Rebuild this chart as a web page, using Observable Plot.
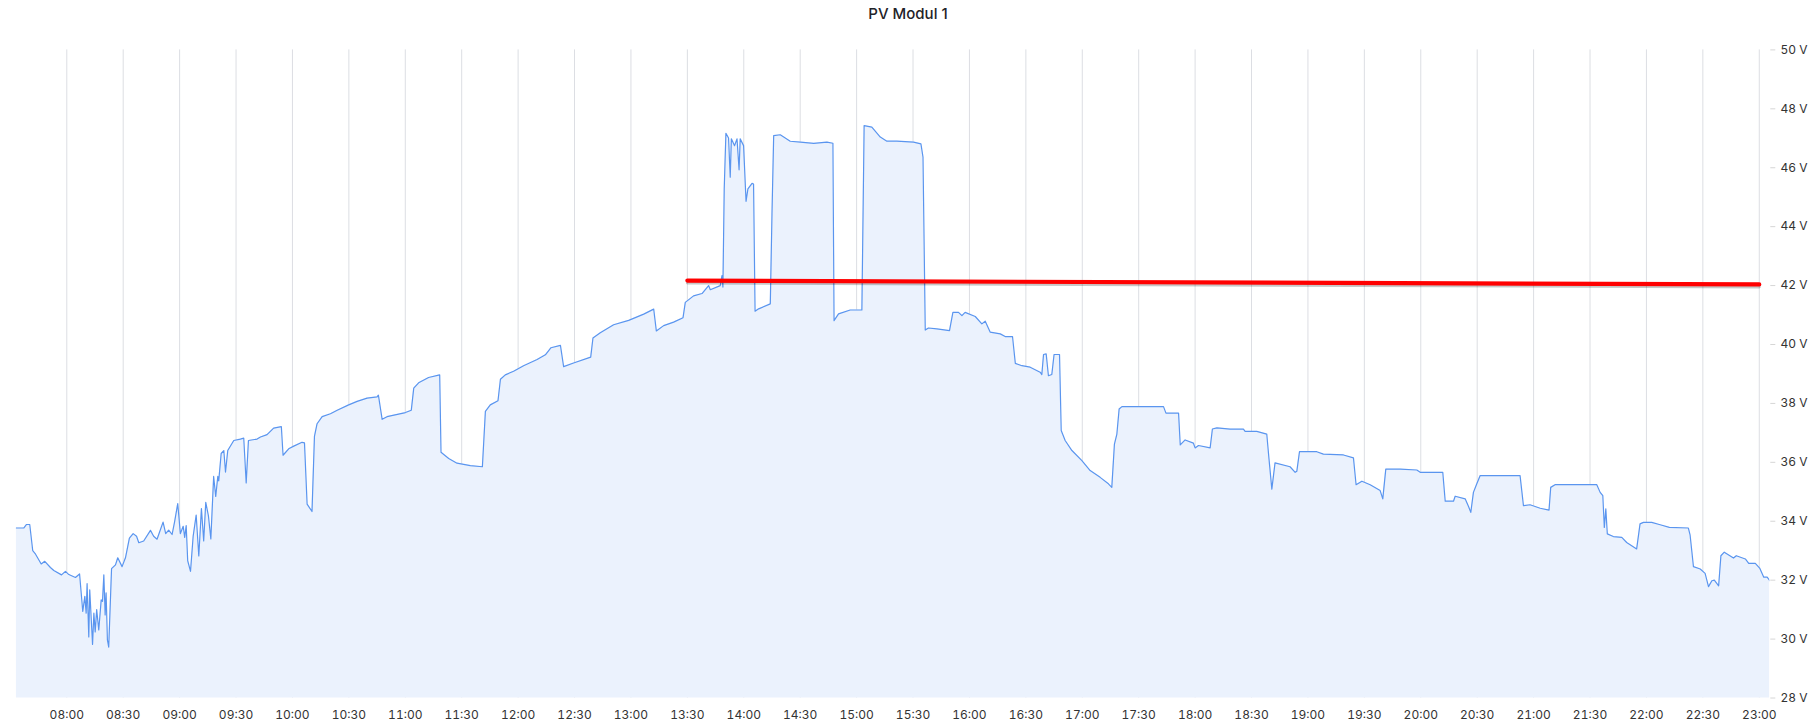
<!DOCTYPE html>
<html>
<head>
<meta charset="utf-8">
<script src="https://cdn.jsdelivr.net/npm/d3@7"></script>
<script src="https://cdn.jsdelivr.net/npm/@observablehq/plot@0.6"></script>
<style>
  html, body { margin: 0; padding: 0; background: #fff; }
  #title { height: 28px; line-height: 28px; text-align: center; font-family: Inter, sans-serif; font-size: 15px; font-weight: 500; color: #1f2328; }
  #chart svg { display: block; }
</style>
</head>
<body>
<div id="title">PV Modul 1</div>
<div id="chart"></div>
<script>
// Minutes relative to 08:00 and measured voltage (V)
const minutesFrom0800 = [
-26.9,-22.9,-21.4,-19.7,-18.1,-16.6,-13.6,-11.7,-8.7,-6.9,-2.8,-0.7,1.1,4.6,6.8,8.5,9.6,10.3,10.8,11.7,12.2,13.7,14.4,15.1,15.9,17.0,18.3,19.0,19.7,20.4,20.9,21.6,22.3,23.8,25.9,27.1,29.4,31.2,33.3,35.3,37.1,38.3,40.9,44.5,46.2,48.0,51.2,52.6,54.2,56.0,57.3,59.0,60.4,61.9,62.7,63.5,64.3,65.8,67.2,68.8,70.2,71.6,72.8,73.9,75.3,76.6,78.1,79.2,80.3,80.8,82.1,83.5,84.4,85.6,88.8,92.3,94.1,95.4,96.6,101.2,103.0,106.5,110.0,114.1,115.0,118.0,120.7,125.1,126.4,127.8,130.4,131.7,133.1,135.8,140.2,143.8,149.9,154.4,159.7,165.0,165.7,
167.7,170.3,180.1,183.2,184.5,187.1,192.4,198.3,199.0,203.1,207.5,214.6,221.0,222.6,225.2,229.3,230.6,233.2,237.6,242.9,250.1,254.5,257.5,262.5,264.2,269.5,278.6,279.8,283.7,290.8,298.8,306.8,312.1,313.5,317.4,322.7,327.7,328.9,333.3,337.8,341.3,342.2,347.5,348.4,348.9,
349.6,350.5,351.9,352.8,353.4,355.1,356.4,357.5,358.1,359.9,361.2,362.2,364.4,365.2,366.0,367.9,374.1,375.0,375.9,379.4,384.7,390.1,397.2,404.2,407.4,408.0,410.4,416.6,422.8,424.0,428.1,432.6,436.1,441.4,450.3,454.2,455.3,456.5,458.2,462.7,469.4,471.2,474.2,476.0,477.7,483.1,486.6,488.4,491.0,496.4,499.0,502.9,504.4,507.9,512.3,517.6,518.5,519.4,520.8,522.0,523.8,525.0,527.9,528.8,530.9,534.5,539.8,544.2,549.5,553.9,555.7,557.1,558.4,559.6,561.1,583.2,584.5,591.2,592.1,594.7,599.1,600.0,601.8,608.0,609.2,611.6,618.6,625.7,626.6,632.8,638.1,639.3,640.8,642.5,650.5,653.2,654.1,655.5,664.7,668.2,678.9,684.2,685.6,688.7,693.1,698.4,699.8,701.4,709.0,717.9,719.7,731.7,733.0,737.4,738.3,743.6,745.4,746.6,748.0,749.8,751.6,772.8,774.6,778.1,783.5,788.2,789.1,791.4,813.6,815.4,816.8,817.6,818.4,819.2,822.4,826.9,829.5,834.8,836.6,838.4,842.8,847.3,852.2,862.3,863.2,865.0,868.6,871.2,873.0,874.8,876.1,878.4,879.6,881.4,886.3,887.8,892.6,894.4,897.9,900.2,902.4,904.2,905.6
];
const volts = [
33.77,33.77,33.89,33.89,33.00,32.88,32.55,32.64,32.43,32.33,32.18,32.30,32.19,32.09,32.21,30.94,31.45,30.88,31.88,30.07,31.67,29.82,30.88,30.24,31.00,30.31,31.33,31.28,32.18,30.82,31.57,29.97,29.73,32.39,32.52,32.76,32.46,32.76,33.43,33.58,33.49,33.27,33.33,33.69,33.49,33.39,33.97,33.58,33.70,33.55,33.97,34.60,33.58,33.83,33.45,33.85,32.66,32.30,33.49,34.21,32.82,34.43,33.33,34.64,34.19,33.40,35.52,34.84,35.52,35.37,36.30,36.40,35.67,36.40,36.74,36.79,36.82,35.30,36.74,36.79,36.86,36.94,37.16,37.21,36.24,36.46,36.55,36.68,36.66,34.58,34.33,36.88,37.31,37.55,37.65,37.77,37.95,38.07,38.18,38.22,38.28,
37.46,37.55,37.69,37.77,38.52,38.70,38.88,38.97,36.34,36.13,35.97,35.89,35.85,37.73,37.95,38.09,38.82,38.97,39.09,39.28,39.49,39.65,39.89,39.97,39.25,39.37,39.57,40.22,40.40,40.67,40.82,41.03,41.20,40.46,40.64,40.76,40.91,41.43,41.65,41.73,42.00,41.86,42.00,42.34,41.95,
45.28,47.17,47.01,45.68,46.98,46.75,46.98,45.93,46.98,46.75,44.86,45.28,45.47,45.45,41.13,41.21,41.38,44.43,47.09,47.12,46.90,46.87,46.83,46.87,46.83,40.81,41.04,41.17,41.17,47.43,47.38,47.04,46.90,46.90,46.87,46.81,46.36,40.49,40.56,40.53,40.47,41.09,41.09,40.98,41.09,40.95,40.70,40.79,40.42,40.36,40.27,40.27,39.36,39.28,39.23,39.06,38.98,39.66,39.68,38.94,38.98,39.66,39.66,37.08,36.74,36.40,36.06,35.72,35.49,35.27,35.15,36.62,36.96,37.81,37.89,37.89,37.67,37.67,36.59,36.76,36.65,36.49,36.57,36.49,37.13,37.17,37.13,37.13,37.05,37.05,36.96,36.11,35.09,35.98,35.85,35.66,35.70,36.36,36.36,36.28,36.25,36.15,35.24,35.36,35.24,35.04,34.76,35.77,35.77,35.74,35.66,35.66,34.68,34.68,34.85,34.76,34.50,34.30,34.98,35.27,35.55,35.55,34.53,34.56,34.44,34.38,35.15,35.24,35.24,34.98,34.87,33.79,34.42,33.57,33.48,33.45,33.28,33.06,33.91,33.96,33.96,33.88,33.79,33.77,33.54,32.46,32.38,32.23,31.78,31.98,32.00,31.81,32.83,32.95,32.75,32.83,32.72,32.57,32.57,32.41,32.10,32.10,31.98
];

// Red reference line (start / end)
const limitTimes = ["13:30", "23:00"];
const limitVolts = [42.17, 42.04];

// Tick labels
const xTickLabels = ["08:00","08:30","09:00","09:30","10:00","10:30","11:00","11:30","12:00","12:30","13:00","13:30","14:00","14:30","15:00","15:30","16:00","16:30","17:00","17:30","18:00","18:30","19:00","19:30","20:00","20:30","21:00","21:30","22:00","22:30","23:00"];
const yTicks = [28, 30, 32, 34, 36, 38, 40, 42, 44, 46, 48, 50];

const base = Date.UTC(2024, 0, 1, 8, 0, 0);
const hm = s => { const [h, m] = s.split(":").map(Number); return new Date(Date.UTC(2024, 0, 1, h, m)); };

const data = minutesFrom0800.map((m, i) => ({ t: new Date(base + m * 60000), v: volts[i] }));
const limit = limitTimes.map((s, i) => ({ t: hm(s), v: limitVolts[i] }));
const xTicks = xTickLabels.map(hm);

const chart = Plot.plot({
  width: 1816,
  height: 698,
  marginTop: 21.4,
  marginBottom: 28.5,
  marginLeft: 15.7,
  marginRight: 46.7,
  style: { fontFamily: "Inter, sans-serif", fontSize: "12px", color: "#333" },
  x: { type: "utc", domain: d3.extent(data, d => d.t) },
  y: { domain: [28, 50] },
  marks: [
    Plot.gridX(xTicks, { stroke: "#dcdee3", strokeOpacity: 1 }),
    Plot.areaY(data, { x: "t", y: "v", fill: "#ebf2fd", clip: true }),
    Plot.lineY(data, { x: "t", y: "v", stroke: "#5a95ef", strokeWidth: 1.2, clip: true }),
    Plot.lineY(limit, { x: "t", y: "v", stroke: "#000", strokeOpacity: 0.22, strokeWidth: 3, dy: 2.5 }),
    Plot.lineY(limit, { x: "t", y: "v", stroke: "#ff0000", strokeWidth: 4.2 }),
    Plot.axisX(xTicks, { tickSize: 0, tickPadding: 12, tickFormat: d3.utcFormat("%H:%M"), fill: "#333", label: null }),
    Plot.axisY(yTicks, { anchor: "right", tickSize: 5, tickPadding: 5.7, stroke: "#d6d6d6", fill: "#333", tickFormat: d => `${d} V`, label: null })
  ]
});
document.getElementById("chart").appendChild(chart);
</script>
</body>
</html>
